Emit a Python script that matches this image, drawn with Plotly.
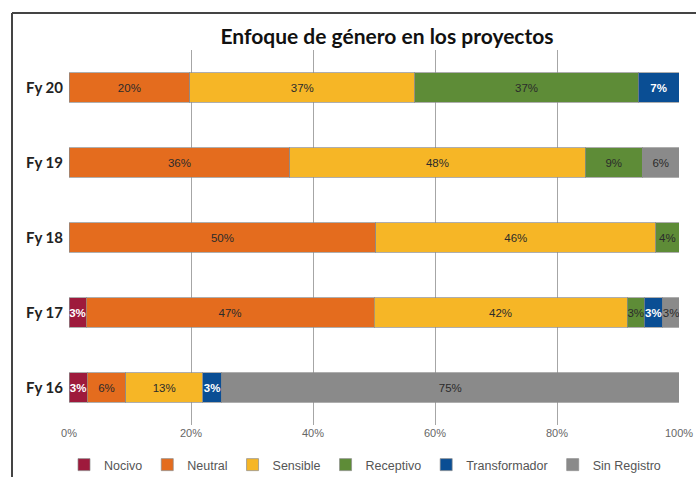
import plotly.graph_objects as go

categories = ["Fy 16", "Fy 17", "Fy 18", "Fy 19", "Fy 20"]
series_names = ["Nocivo", "Neutral", "Sensible", "Receptivo", "Transformador", "Sin Registro"]

nocivo        = [0.030, 0.028, 0.000, 0.000, 0.000]
neutral       = [0.063, 0.472, 0.503, 0.362, 0.198]
sensible      = [0.126, 0.415, 0.459, 0.484, 0.369]
receptivo     = [0.000, 0.028, 0.038, 0.094, 0.366]
transformador = [0.031, 0.030, 0.000, 0.000, 0.067]
sin_registro  = [0.750, 0.028, 0.000, 0.060, 0.000]

colors = ["#9E1A3C", "#E46C1E", "#F6B626", "#5E8C37", "#0A4E94", "#8A8A8A"]
text_colors = ["white", "#2b2b2b", "#2b2b2b", "#2b2b2b", "white", "#2b2b2b"]
x_ticks = [0, 0.2, 0.4, 0.6, 0.8, 1.0]
x_tick_labels = ["0%", "20%", "40%", "60%", "80%", "100%"]
title = "Enfoque de género en los proyectos"

values = [nocivo, neutral, sensible, receptivo, transformador, sin_registro]

fig = go.Figure()
for name, vals, col, tcol in zip(series_names, values, colors, text_colors):
    labels = [f"{round(v*100)}%" if v > 0 else "" for v in vals]
    fig.add_trace(go.Bar(
        y=categories, x=vals, name=name, orientation="h",
        marker=dict(color=col, line=dict(color="rgba(140,140,140,0.7)", width=1)),
        text=labels, textposition="inside", insidetextanchor="middle",
        textangle=0, constraintext="none",
        textfont=dict(family="Liberation Sans", size=11.5, color=tcol,
                      weight="bold" if tcol == "white" else "normal"),
        hoverinfo="skip",
    ))

fig.update_layout(
    barmode="stack",
    bargap=0.61,
    width=696, height=477,
    margin=dict(l=69, r=17, t=50, b=52),
    paper_bgcolor="white", plot_bgcolor="white",
    uniformtext=dict(minsize=11, mode="show"),
    title=dict(text=title, x=387/696, xanchor="center", y=1 - 37/477, yanchor="middle",
               font=dict(family="Lato", size=21, color="#111", weight="bold")),
    xaxis=dict(range=[0, 1], tickvals=x_ticks, ticktext=x_tick_labels,
               showgrid=True, gridcolor="#a6a6a6", gridwidth=1, zeroline=False,
               showline=False, ticks="", ticklen=0, automargin=False,
               tickfont=dict(family="Liberation Sans", size=11, color="#666666")),
    yaxis=dict(showgrid=False, ticks="", showline=False, automargin=False,
               ticklabelstandoff=5,
               tickfont=dict(family="Lato", size=15, color="#222", weight="bold")),
    legend=dict(orientation="h", x=365/696, xanchor="center", xref="container",
                y=1 - 465/477, yref="container", yanchor="middle",
                font=dict(family="Liberation Sans", size=12.5, color="#555"),
                itemwidth=30, tracegroupgap=0, traceorder="normal"),
    showlegend=True,
)

# outer frame (left and top edges)
fig.add_shape(type="line", xref="paper", yref="paper",
              x0=(12 - 69) / 610, x1=(12 - 69) / 610, y0=(425 - 477) / 375, y1=(425 - 13) / 375,
              line=dict(color="#444", width=2))
fig.add_shape(type="line", xref="paper", yref="paper",
              x0=(12 - 69) / 610, x1=(696 - 69) / 610, y0=(425 - 13) / 375, y1=(425 - 13) / 375,
              line=dict(color="#444", width=2))

fig.write_html("out.html", config={"displayModeBar": False},
               post_script="document.body.style.margin='0';")
